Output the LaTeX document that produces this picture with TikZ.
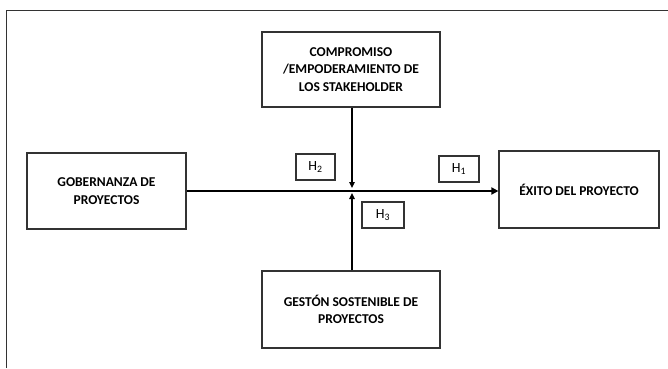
\documentclass[tikz,border=0pt]{standalone}
\usepackage{fontspec}
\setmainfont{Carlito}
\usetikzlibrary{arrows.meta}
\begin{document}
\begin{tikzpicture}[x=1pt,y=-1pt,
  box/.style={draw=black!80,line width=1.2pt,minimum width=#1,align=center,inner sep=0pt,
    font=\fontsize{13.5}{17.5}\selectfont\bfseries},
  hbox/.style={draw=black!80,line width=1.1pt,minimum width=40pt,minimum height=26pt,inner sep=0pt,
    font=\fontsize{14}{16}\selectfont},
  thinarrow/.style={line width=1.3pt,-{Triangle[length=6pt,width=5.5pt]}},
  thickarrow/.style={line width=2.2pt,-{Triangle[length=7pt,width=7pt]}}]
\useasboundingbox (0,0) rectangle (668,368);
\draw[black!80,line width=1pt] (6,368) -- (6,10.5) -- (668,10.5);
\node[box=178pt,minimum height=75pt] (top) at (351,69.5) {COMPROMISO\\/EMPODERAMIENTO DE\\LOS STAKEHOLDER};
\node[box=159pt,minimum height=76pt] (left) at (106.5,191) {GOBERNANZA DE\\PROYECTOS};
\node[box=160pt,minimum height=77pt] (right) at (579,189.5) {ÉXITO DEL PROYECTO};
\node[box=178pt,minimum height=77pt] (bottom) at (351,309.5) {GESTÓN SOSTENIBLE DE\\PROYECTOS};
\node[hbox,minimum width=39pt] (h2) at (315.5,167) {H\textsubscript{2}};
\node[hbox] (h1) at (459,169) {H\textsubscript{1}};
\node[hbox,minimum width=42pt] (h3) at (383,215) {H\textsubscript{3}};
\coordinate (cross) at (352,191);
\draw[thickarrow] (left.east) -- (left.east -| right.west);
\draw[thinarrow,shorten >=3pt] (top.south -| cross) -- (cross);
\draw[thinarrow,shorten >=2pt] (bottom.north -| cross) -- (cross);
\end{tikzpicture}
\end{document}
